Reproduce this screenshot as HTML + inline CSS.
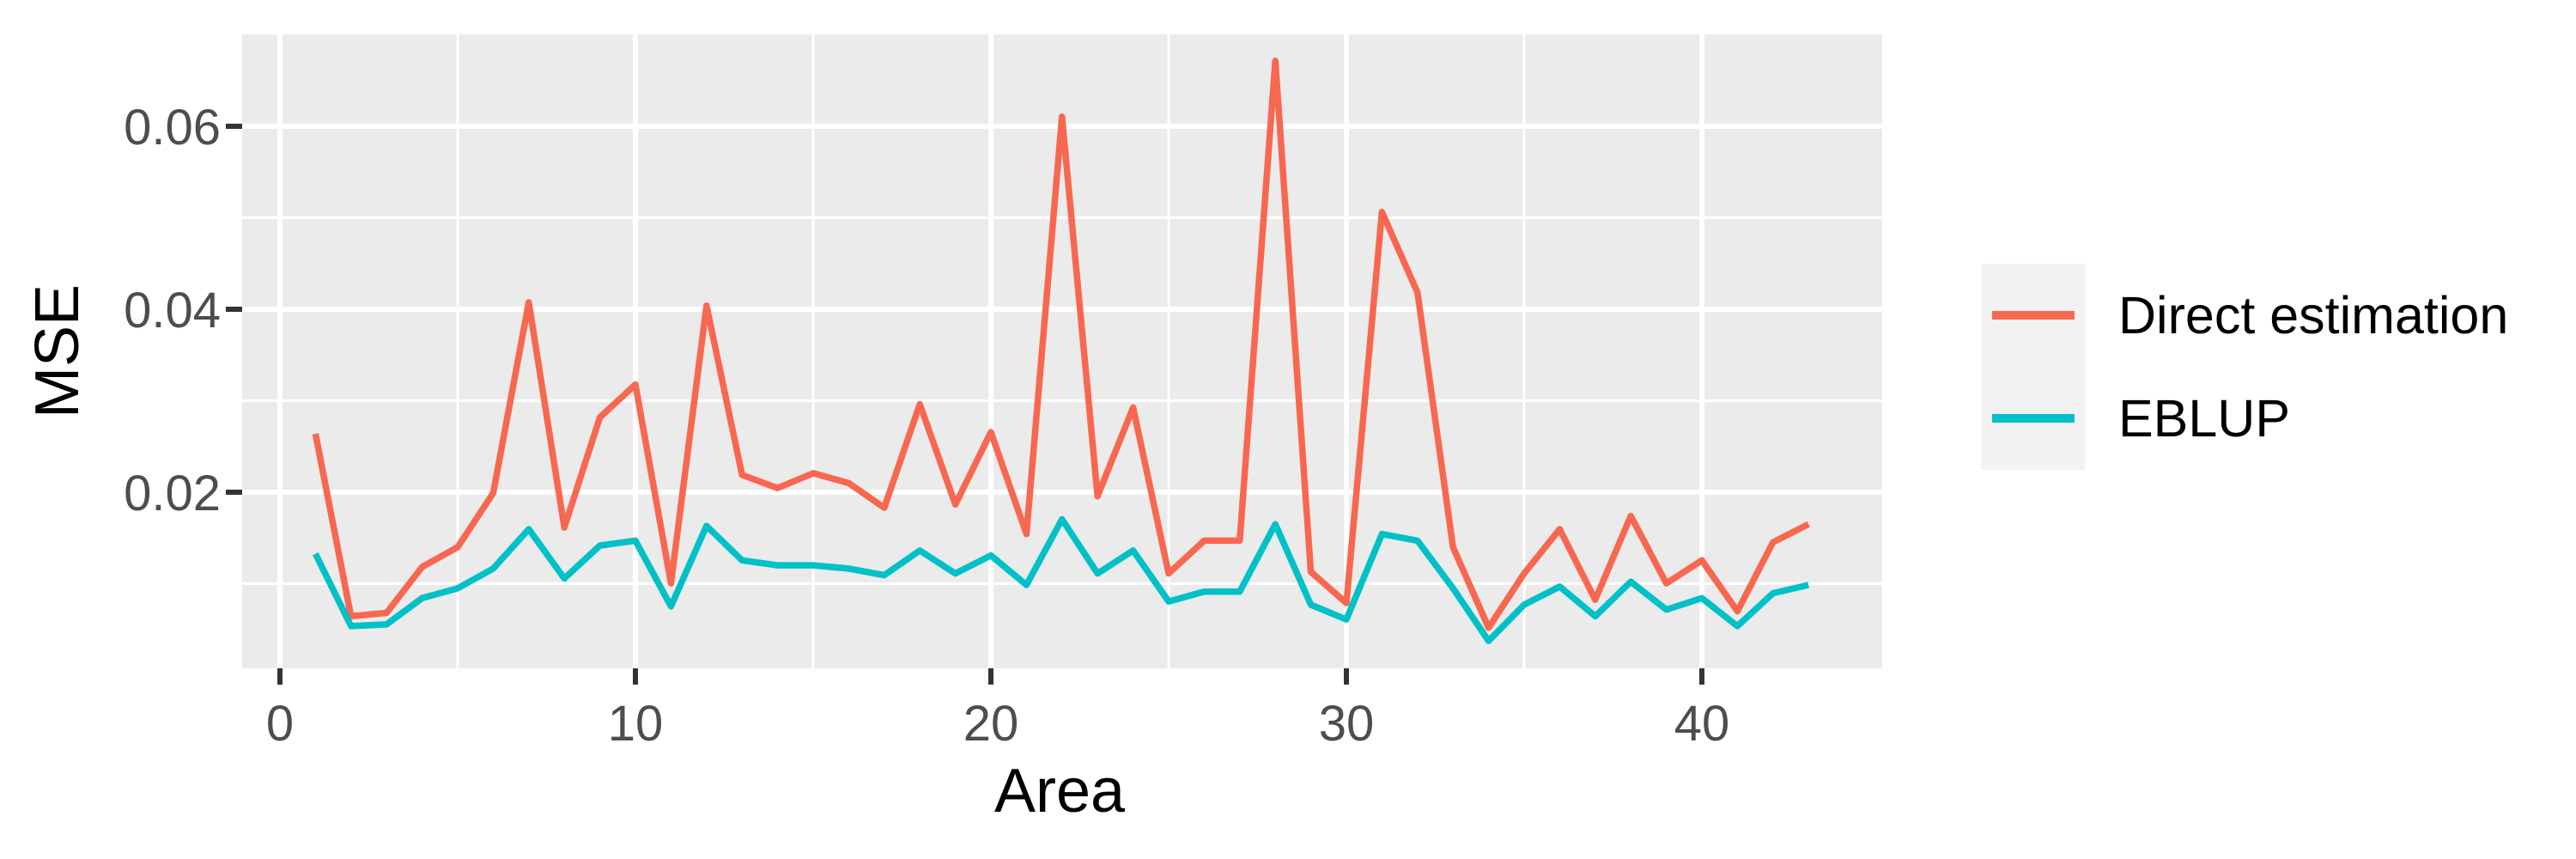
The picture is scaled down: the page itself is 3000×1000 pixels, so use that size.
<!DOCTYPE html>
<html><head><meta charset="utf-8"><style>
html,body{margin:0;padding:0;background:#fff;}
svg{display:block;}
text{font-family:"Liberation Sans",Arial,sans-serif;}
</style></head><body>
<svg id="s" width="3000" height="1000" xmlns="http://www.w3.org/2000/svg">
<rect x="0" y="0" width="3000" height="1000" fill="#fff"/>
<rect x="282" y="40" width="1910" height="738" fill="#EBEBEB"/>
<g id="grid"></g>
<g id="lines"></g>
<g fill="#333" id="ticks"></g>
<g font-size="58" fill="#4D4D4D" text-anchor="end">
<text x="257" y="168">0.06</text>
<text x="257" y="381">0.04</text>
<text x="257" y="594">0.02</text>
</g>
<g font-size="58" fill="#4D4D4D" text-anchor="middle" id="xl"></g>
<text x="1234" y="945" font-size="72" text-anchor="middle" fill="#000">Area</text>
<text transform="translate(91,409) rotate(-90)" font-size="72" text-anchor="middle" fill="#000">MSE</text>
<rect x="2308" y="307" width="120" height="240" fill="#F2F2F2"/>
<rect x="2320" y="362" width="96" height="10" fill="#F8674F"/>
<rect x="2320" y="482" width="96" height="10" fill="#00C1C7"/>
<text x="2467" y="388" font-size="61" fill="#000">Direct estimation</text>
<text x="2467" y="508" font-size="61" fill="#000">EBLUP</text>
</svg>
<script>
var NS="http://www.w3.org/2000/svg";
function el(p,t,a){var e=document.createElementNS(NS,t);for(var k in a)e.setAttribute(k,a[k]);document.getElementById(p).appendChild(e);return e;}
function X(n){return 326+41.4*n;}
function Yv(v){return 573-(v-0.02)*10650;}
[5,15,25,35].forEach(function(n){el("grid","line",{x1:X(n),x2:X(n),y1:40,y2:778,stroke:"#fff","stroke-width":3});});
[0.01,0.03,0.05].forEach(function(v){el("grid","line",{x1:282,x2:2192,y1:Yv(v),y2:Yv(v),stroke:"#fff","stroke-width":3});});
[0,10,20,30,40].forEach(function(n){el("grid","line",{x1:X(n),x2:X(n),y1:40,y2:778,stroke:"#fff","stroke-width":6});
el("ticks","rect",{x:X(n)-3,y:778,width:6,height:19});
var t=el("xl","text",{x:X(n),y:862});t.textContent=n;});
[0.02,0.04,0.06].forEach(function(v){el("grid","line",{x1:282,x2:2192,y1:Yv(v),y2:Yv(v),stroke:"#fff","stroke-width":6});
el("ticks","rect",{x:263,y:Yv(v)-3,width:19,height:6});});
var D=[264,375,373,345,333,300,184,321,254,234,355,186,289,297,288,294,309,246,307,263,325,71,302,248,349,329,329,37,348,367,129,178,333,382,349,322,365,314,355,341,372,330,319];
var E=[337,381,380,364,358,346,322,352,332,329,369,320,341,344,344,346,350,335,349,338,356,316,349,335,366,360,360,319,368,377,325,329,358,390,368,357,375,354,371,364,381,361,356];
function pts(a){return a.map(function(y,i){return X(i+1).toFixed(1)+","+(y*1.913).toFixed(1);}).join(" ");}
el("lines","polyline",{points:pts(D),fill:"none",stroke:"#F8674F","stroke-width":7.5,"stroke-linejoin":"round"});
el("lines","polyline",{points:pts(E),fill:"none",stroke:"#00C1C7","stroke-width":7.5,"stroke-linejoin":"round"});
</script>
</body></html>
